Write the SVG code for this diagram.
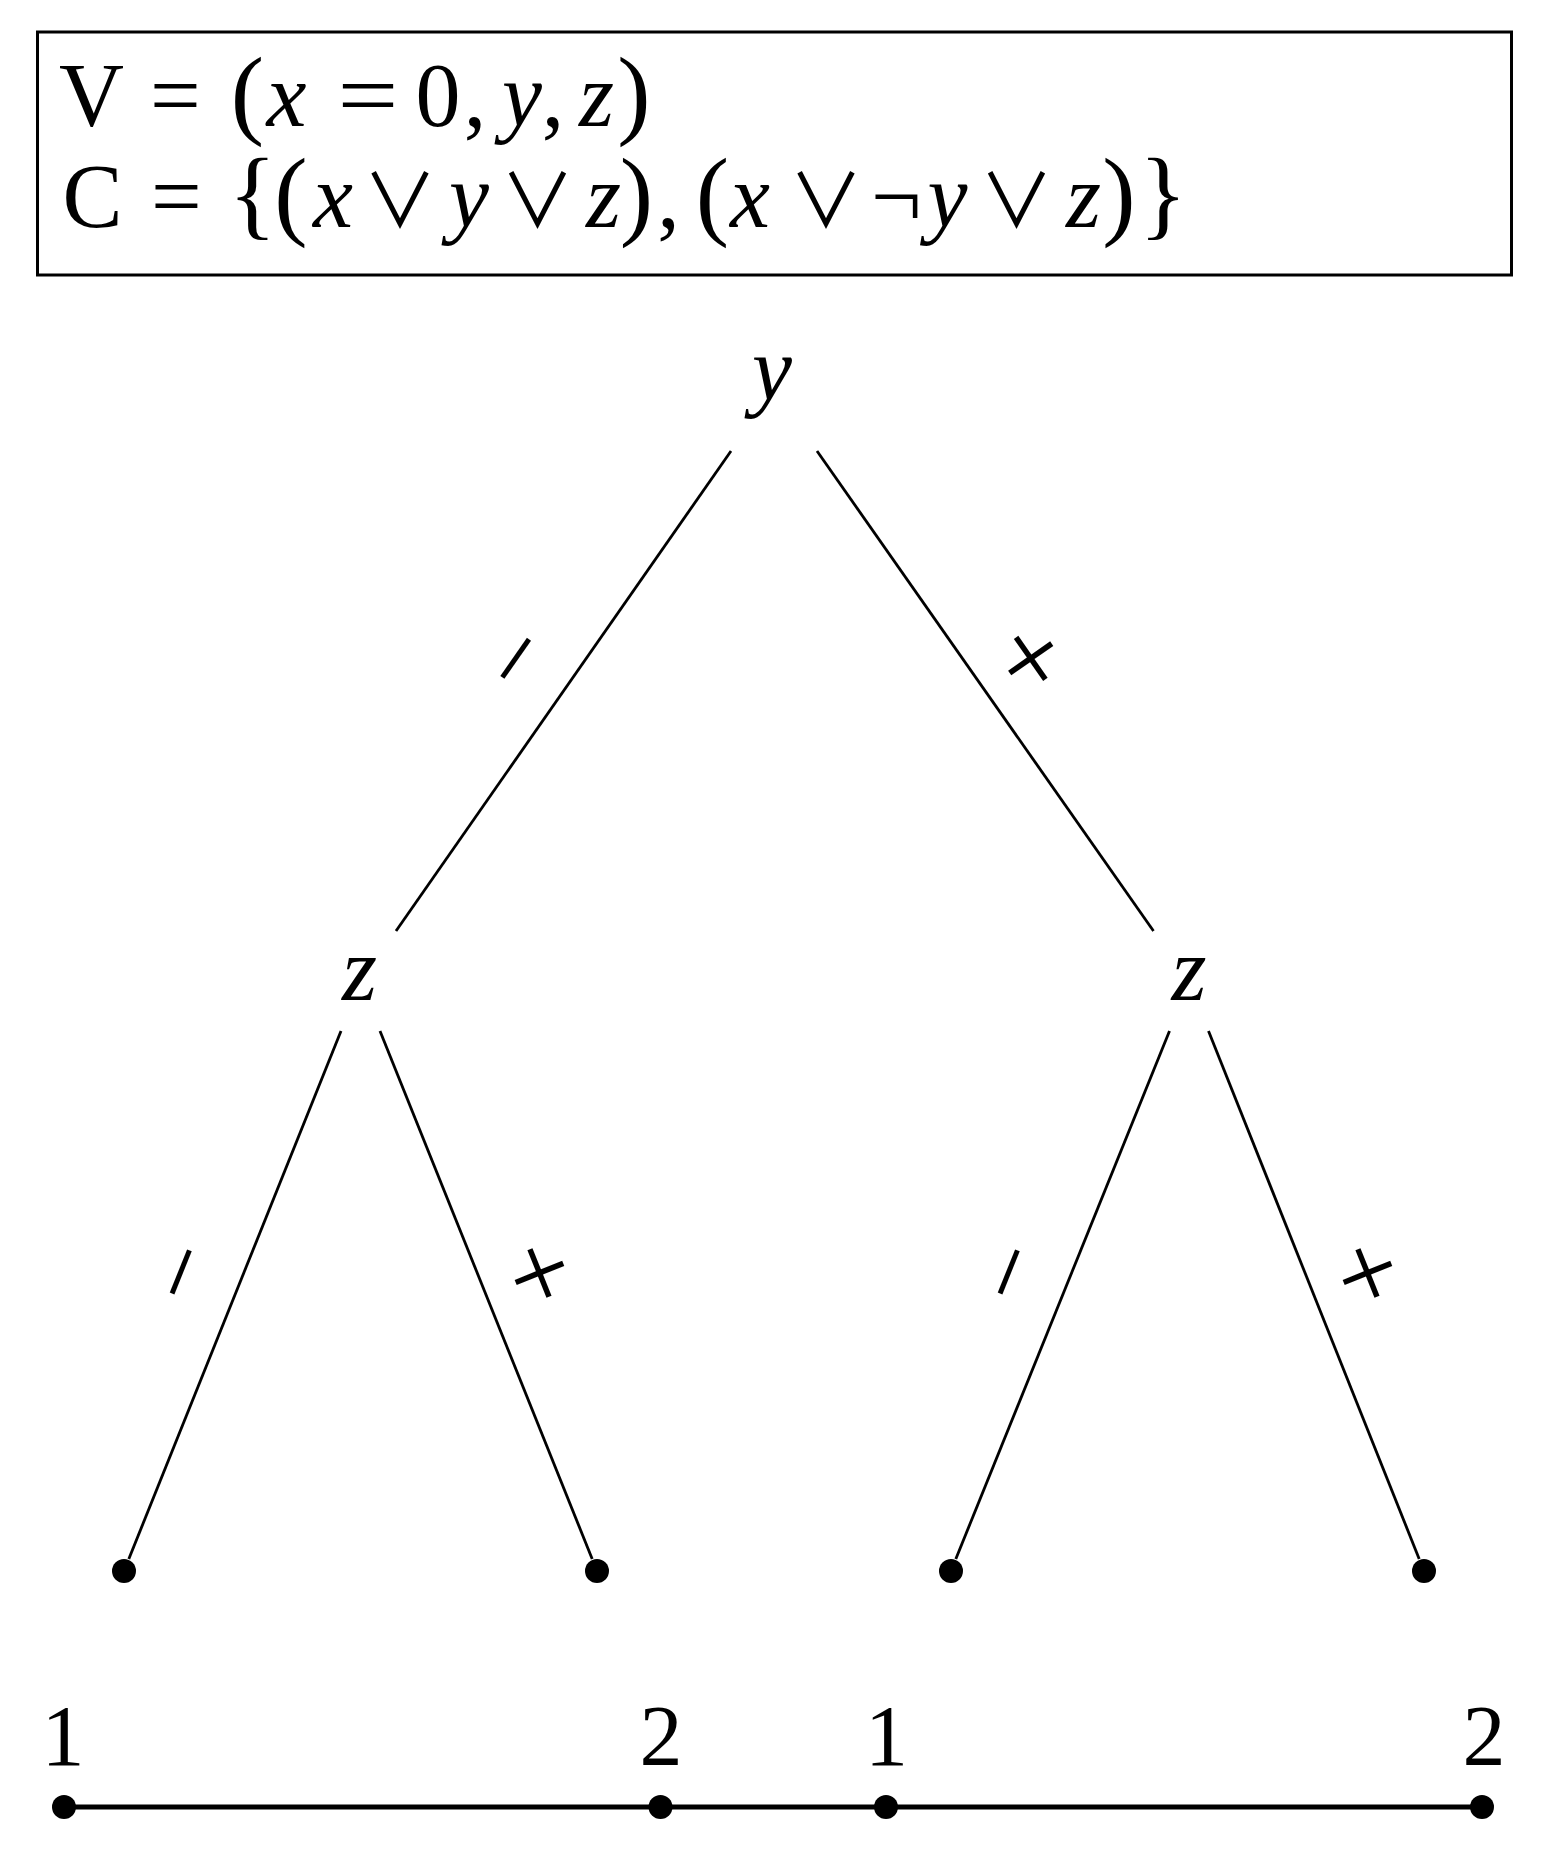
<svg xmlns="http://www.w3.org/2000/svg" width="1542" height="1854" viewBox="0 0 1542 1854">
<style>
text{font-family:"Liberation Serif","DejaVu Serif",serif;fill:#000}
.f{font-size:90px}
.i{font-style:italic}
.p{font-size:100px}
.o{font-size:74px;font-family:"Noto Sans CJK SC","DejaVu Serif",serif}
.lbl{font-size:90px;font-style:italic;text-anchor:middle}
.num{font-size:86px;text-anchor:middle}
.sgn{text-anchor:middle}
.edge{stroke:#000;stroke-width:2.8;fill:none}
.bar{stroke:#000;stroke-width:5;fill:none}
</style>
<rect width="1542" height="1854" fill="#fff"/>
<g id="formula-box">
<rect x="37.5" y="32" width="1474" height="243" fill="none" stroke="#000" stroke-width="3"/>
<text class="f" y="126" text-anchor="middle"><tspan x="91.5">V</tspan><tspan x="175.5">=</tspan><tspan class="p" x="247.5">(</tspan><tspan class="i" x="286.5">x</tspan><tspan x="438">0</tspan><tspan x="475">,</tspan><tspan class="i" x="522">y</tspan><tspan x="553">,</tspan><tspan class="i" x="596.5">z</tspan><tspan class="p" x="634">)</tspan></text>
<text class="f" transform="translate(368,126) scale(1.2,1)" text-anchor="middle">=</text>
<text class="f" y="227" text-anchor="middle"><tspan x="92.5">C</tspan><tspan x="176.5">=</tspan><tspan class="p" x="252.5">{</tspan><tspan class="p" x="291">(</tspan><tspan class="i" x="333">x</tspan><tspan class="o" x="400">∨</tspan><tspan class="i" x="469">y</tspan><tspan class="o" x="537.5">∨</tspan><tspan class="i" x="603.5">z</tspan><tspan class="p" x="636.5">)</tspan><tspan x="668.5">,</tspan><tspan class="p" x="712.5">(</tspan><tspan class="i" x="750">x</tspan><tspan class="o" x="826">∨</tspan><tspan x="896.5">¬</tspan><tspan class="i" x="947.5">y</tspan><tspan class="o" x="1016.5">∨</tspan><tspan class="i" x="1083.5">z</tspan><tspan class="p" x="1119">)</tspan><tspan class="p" x="1163">}</tspan></text>
</g>
<g id="connectors">
<line class="edge" x1="731" y1="451" x2="396" y2="931"/>
<line class="edge" x1="817" y1="451" x2="1153.5" y2="931"/>
<line class="edge" x1="341" y1="1031" x2="128.8" y2="1559"/>
<line class="edge" x1="380" y1="1031" x2="592.2" y2="1559"/>
<line class="edge" x1="1169.5" y1="1031" x2="955.8" y2="1559"/>
<line class="edge" x1="1208.5" y1="1031" x2="1419.2" y2="1559"/>
<text class="sgn" font-size="100" transform="translate(515,658) rotate(-55.1)" y="34">−</text>
<text class="sgn" font-size="110" transform="translate(1031,658) rotate(55.1)" y="37">+</text>
<text class="sgn" font-size="100" transform="translate(181,1272) rotate(-68.1)" y="33">−</text>
<text class="sgn" font-size="110" transform="translate(539,1273) rotate(68.1)" y="36">+</text>
<text class="sgn" font-size="100" transform="translate(1009,1272) rotate(-68.1)" y="33">−</text>
<text class="sgn" font-size="110" transform="translate(1367,1273) rotate(68.1)" y="36">+</text>
</g>
<g id="node-root"><text class="lbl" x="772" y="400">y</text></g>
<g id="node-z-left"><text class="lbl" x="359.5" y="1000">z</text></g>
<g id="node-z-right"><text class="lbl" x="1189" y="1000">z</text></g>
<g id="leaf-1"><circle cx="124" cy="1571" r="12"/></g>
<g id="leaf-2"><circle cx="597" cy="1571" r="12"/></g>
<g id="leaf-3"><circle cx="951" cy="1571" r="12"/></g>
<g id="leaf-4"><circle cx="1424" cy="1571" r="12"/></g>
<g id="axis">
<line class="bar" x1="64" y1="1807" x2="1482" y2="1807"/>
<circle cx="64" cy="1807" r="12"/>
<circle cx="660.5" cy="1807" r="12"/>
<circle cx="886" cy="1807" r="12"/>
<circle cx="1482" cy="1807" r="12"/>
<text class="num" x="63" y="1765">1</text>
<text class="num" x="661" y="1765">2</text>
<text class="num" x="886.5" y="1765">1</text>
<text class="num" x="1484" y="1765">2</text>
</g>
</svg>
